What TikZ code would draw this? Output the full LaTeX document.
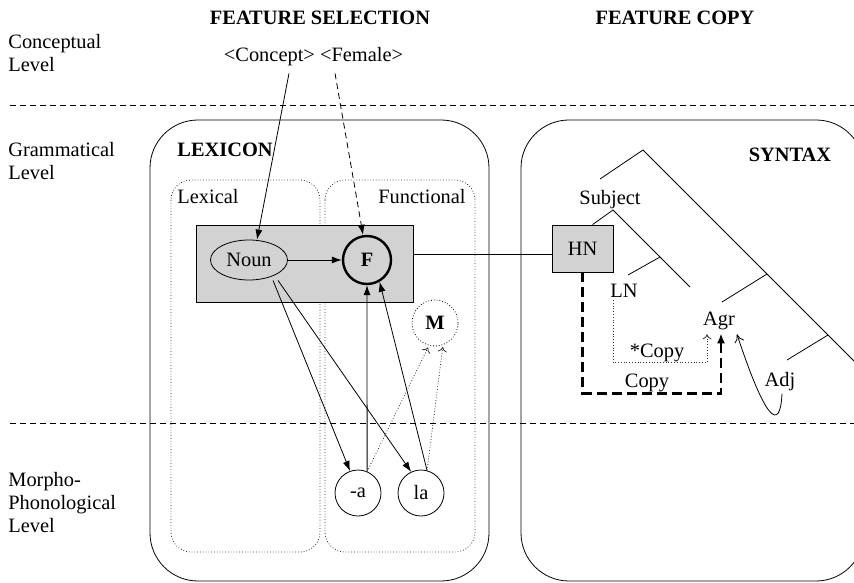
\documentclass[tikz,border=0pt]{standalone}
\usepackage{fontspec}
\setmainfont{Liberation Serif}
\usetikzlibrary{arrows.meta}
\usetikzlibrary{shapes.geometric}

\begin{document}
\begin{tikzpicture}[x=0.5pt,y=-0.5pt,
    font=\fontsize{10.2pt}{11.5pt}\selectfont,
    level/.style={dash pattern=on 3pt off 2pt},
    module/.style={rounded corners=24pt},
    part/.style={densely dotted, line width=0.4pt, gray!40!black, rounded corners=10pt},
    entry/.style={draw, fill=gray!35},
    morph/.style={draw, circle, minimum size=23pt, inner sep=0pt},
    lbl/.style={inner sep=1pt},
    head/.style={-{Latex[length=5pt,width=3.5pt]}},
    weak/.style={densely dotted, gray!40!black, -{To[length=2.5pt,width=4.5pt]}},
    copyline/.style={line width=1.4pt, dash pattern=on 5pt off 2.5pt, -{Latex[length=5pt,width=4pt]}}]
    \useasboundingbox (0,0) rectangle (854,582);
    \clip (0,0) rectangle (854,582);
    % niveaux
    \node[anchor=west, align=left, inner sep=0pt] (conclev) at (8,53) {Conceptual\\Level};
    \node[anchor=west, align=left, inner sep=0pt] (gramlev) at (8,161) {Grammatical\\Level};
    \node[anchor=west, align=left, inner sep=0pt] (morphlev) at (8,503) {Morpho-\\Phonological\\Level};
    \draw[level] (10,105) -- (854,105);
    \draw[level] (10,423) -- (854,423);
    \node (featsel) at (320,18) {\textbf{FEATURE SELECTION}};
    \node (featcopy) at (675,18) {\textbf{FEATURE COPY}};
    \node (concepts) at (313.5,57) {<Concept> <Female>};
    % modules
    \draw[module] (150,120) rectangle (489,581);
    \draw[module] (521,120) rectangle (864,581);
    \draw[part] (171,180) rectangle (320,552);
    \draw[part] (325,180) rectangle (475,552);
    \node (lexicon) at (225,150) {\textbf{LEXICON}};
    \node (syntax) at (790,155) {\textbf{SYNTAX}};
    \node (lexical) at (208,197) {Lexical};
    \node (functional) at (422,197) {Functional};
    % lexique
    \node[entry, minimum width=108.5pt, minimum height=38.5pt] (lexentry) at (304.5,263.5) {};
    \node[draw, ellipse, minimum width=38.5pt, minimum height=20pt, inner sep=0pt] (noun) at (249,260) {Noun};
    \node[draw, circle, line width=1.2pt, minimum size=24pt, inner sep=0pt] (fem) at (367,260) {\textbf{F}};
    \node[morph, densely dotted] (masc) at (435,323) {\textbf{M}};
    \node[morph] (suffix) at (358,493) {-a};
    \node[morph] (det) at (421,493) {la};
    \draw[head] ([xshift=-12.25pt]concepts.south) -- ([xshift=4pt]noun.north);
    \draw[head, level] ([xshift=10.75pt]concepts.south) -- ([xshift=-2pt]fem.north);
    \draw[head] (noun) -- (fem);
    \draw[head] ([xshift=12pt]noun.south) -- (suffix.110);
    \draw[head] ([xshift=14.5pt]noun.south) -- (det.115);
    \draw[head] (suffix.67) -- (fem.south);
    \draw[head] (det.75) -- (fem.-60);
    \draw[weak, shorten >=1pt] (suffix.67) -- (masc.-105);
    \draw[weak, shorten >=1pt] (det.75) -- (masc.-70);
    % syntaxe
    \node[entry, minimum width=30.5pt, minimum height=23.5pt] (hn) at (582.5,248.5) {HN};
    \draw ([yshift=-3pt]hn.west) -- ([yshift=-3pt]hn.west -| lexentry.east);
    \coordinate (root) at (643,150);
    \coordinate (rootl) at (600,179);
    \coordinate (rootr) at (870,377);
    \coordinate (subjn) at (613,210);
    \coordinate (subjr) at (690,287);
    \coordinate (lnn) at (660,257);
    \coordinate (lnl) at (628,275);
    \coordinate (agrn) at (767,274);
    \coordinate (agrl) at (722,302);
    \coordinate (adjn) at (828,335);
    \coordinate (adjl) at (787,360);
    \node[lbl] (subj) at (610,200) {Subject};
    \node[lbl] (ln) at (624,291) {LN};
    \node[lbl] (agr) at (719,321) {Agr};
    \node[lbl] (adj) at (780,382) {Adj};
    \draw (rootl) -- (root) -- (rootr);
    \draw ([xshift=5pt]hn.north) -- (subjn) -- (subjr);
    \draw (lnn) -- (lnl);
    \draw (agrn) -- (agrl);
    \draw (adjn) -- (adjl);
    % copie
    \draw[weak] ([xshift=-5.5pt]ln.south) |- ([xshift=-6pt,yshift=-15pt]agr.south) -- ([xshift=-6pt,yshift=-1pt]agr.south);
    \draw[copyline] (hn.south) |- ([xshift=1pt,yshift=-30.5pt]agr.south) -- ([xshift=1pt,yshift=-0.5pt]agr.south);
    \node[lbl] (starcopy) at (657,353) {*Copy};
    \node[lbl] (copy) at (647,383) {Copy};
    \draw[-{To[length=4pt,width=5pt]}] ([xshift=1pt]adj.south) .. controls +(-2,40) and +(28,85) .. ([xshift=9pt,yshift=-1pt]agr.south);
\end{tikzpicture}
\end{document}
